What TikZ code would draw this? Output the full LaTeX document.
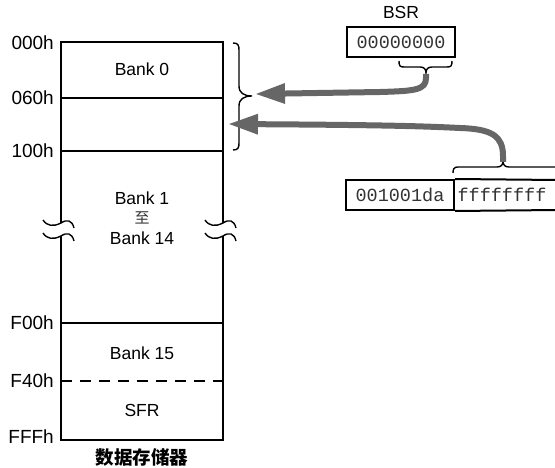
\documentclass[tikz,border=0pt]{standalone}
\usepackage{fontspec}
\setmainfont{Liberation Sans}
\setmonofont{Liberation Mono}
\newfontfamily\cjk{Noto Sans CJK SC}
\usetikzlibrary{arrows.meta}
\definecolor{ptrgray}{RGB}{102,102,102}
\begin{document}
\begin{tikzpicture}[x=1pt,y=-1pt,
  memline/.style={line width=2pt},
  braceline/.style={line width=1.4pt},
  lbl/.style={font=\fontsize{17.5}{20}\selectfont, inner sep=0pt},
  addr/.style={font=\fontsize{19}{21}\selectfont, inner sep=0pt, anchor=east},
  hex/.style={font=\ttfamily\fontsize{18.5}{20}\selectfont, inner sep=0pt, text=black!80},
  regbox/.style={draw, line width=2pt},
  ptr/.style={line width=6pt, draw=ptrgray, line cap=butt,
    -{Triangle[length=30pt,width=19pt,fill=ptrgray]}},
  wave/.pic={\draw[line width=1.4pt] (-18,-3) .. controls (-14,3) and (-8,4) .. (0,0) .. controls (6,-4) and (11,-3) .. (13,5);}
]
\useasboundingbox (0,0) rectangle (555,468);

% memory column
\draw[memline] (61,223) -- (61,42) -- (223,42) -- (223,223);
\draw[memline] (61,236) -- (61,440) -- (223,440) -- (223,236);
\draw[memline] (61,98) -- (223,98);
\draw[memline] (61,151) -- (223,151);
\draw[memline] (61,323) -- (223,323);
\draw[memline, dash pattern=on 11pt off 8pt] (61,381) -- (226,381);

% break marks
\pic at (61,223) {wave};
\pic at (61,236) {wave};
\pic at (223,223) {wave};
\pic at (223,236) {wave};

% address labels
\node[addr] (a000) at (54,43) {000h};
\node[addr] (a060) at (54,98) {060h};
\node[addr] (a100) at (54,151) {100h};
\node[addr] (aF00) at (54,323) {F00h};
\node[addr] (aF40) at (54,381) {F40h};
\node[addr] (aFFF) at (54,437) {FFFh};

% bank labels
\node[lbl] (b0) at (142,69) {Bank 0};
\node[lbl] (b1) at (142,198) {Bank 1};
\node[inner sep=0pt, font=\cjk\fontsize{15}{17}\selectfont, text=black!80] (zhi) at (142,218) {至};
\node[lbl] (b14) at (142,238) {Bank 14};
\node[lbl] (b15) at (142,353) {Bank 15};
\node[lbl] (sfr) at (142,410) {SFR};
\node[inner sep=0pt, font=\cjk\bfseries\fontsize{18.5}{21}\selectfont] (title) at (142,457) {数据存储器};

% big brace
\draw[braceline] (233,43) .. controls (238,43) and (239,45) .. (239,50) -- (239,86)
  .. controls (239,93) and (244,96) .. (252,96)
  .. controls (244,96) and (239,99) .. (239,106) -- (239,143)
  .. controls (239,148) and (238,150) .. (233,150);
\coordinate (bigtip) at (255,94);
\coordinate (bigtip2) at (228,124);

% BSR register
\node[lbl] (bsrlbl) at (401,12) {BSR};
\node[regbox, hex, minimum width=108pt, minimum height=30pt] (bsr) at (401,42) {00000000};
\draw[braceline] (399,61) .. controls (399,66) and (400,67) .. (404,67) -- (420,67)
  .. controls (424,67) and (426,69) .. (426,73)
  .. controls (426,69) and (428,67) .. (432,67) -- (447,67)
  .. controls (451,67) and (452,66) .. (452,61);
\coordinate (bsrtip) at (426,74);

% address register
\node[regbox, hex, minimum width=108pt, minimum height=30pt] (hi) at (400,195) {001001da};
\draw[line width=2pt] (hi.north east) -- (557,180);
\draw[line width=2pt] (hi.south east) -- (557,210);
\node[hex] (lo) at (502,195) {ffffffff};
\draw[braceline] (453,173) .. controls (453,169) and (454,167) .. (458,167) -- (497,167)
  .. controls (501,167) and (503,165) .. (503,161)
  .. controls (503,165) and (505,167) .. (509,167) -- (557,167);
\coordinate (lotip) at (503,162);

% pointers
\draw[ptr] (bsrtip) -- (426,78) .. controls (426,90) and (415,91) .. (380,92) -- (bigtip);
\draw[ptr] (lotip) -- (503,156) .. controls (503,136) and (492,129) .. (460,128)
  .. controls (420,126) and (380,125) .. (bigtip2);
\end{tikzpicture}
\end{document}
